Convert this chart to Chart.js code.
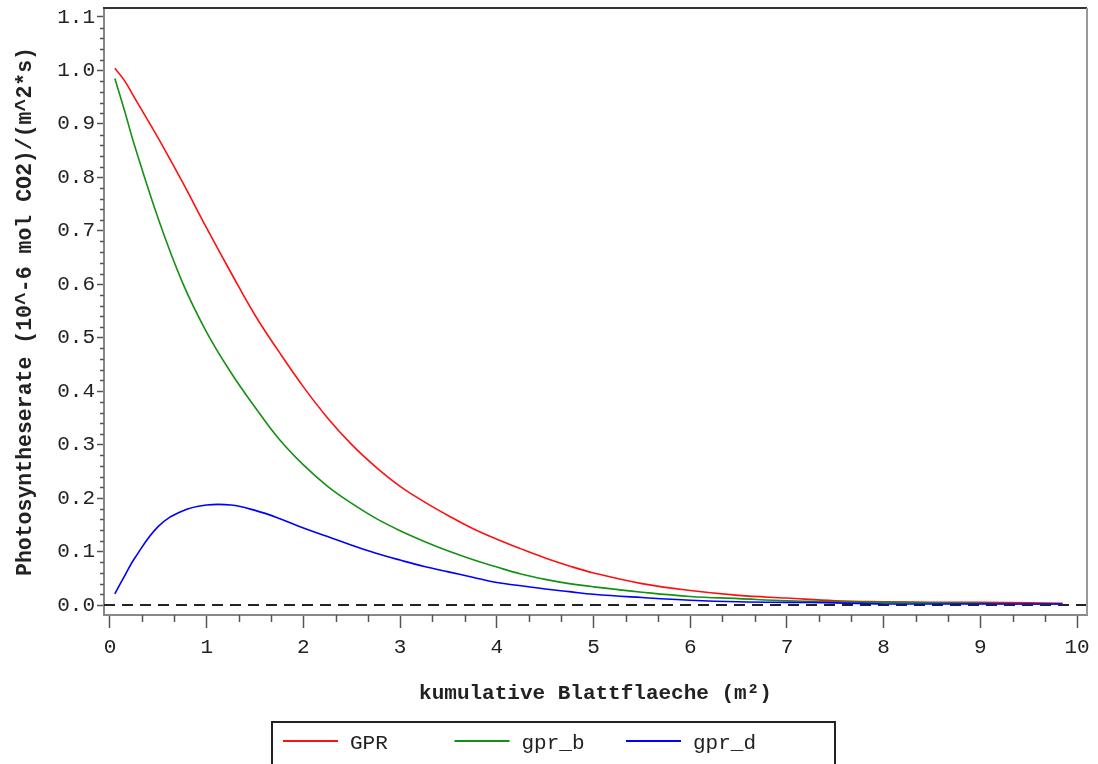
<!DOCTYPE html>
<html>
<head>
<meta charset="utf-8">
<script src="https://cdn.jsdelivr.net/npm/chart.js@4"></script>
<style>
  html, body { margin: 0; padding: 0; background: #fff; }
  #wrap { width: 1098px; height: 764px; }
</style>
</head>
<body>
<div id="wrap"><canvas id="chart" width="1098" height="764"></canvas></div>
<script>
// kumulative Blattflaeche vs. Photosyntheserate — three curves

const xs   = [0.05, 0.15, 0.25, 0.5, 0.75, 1, 1.25, 1.5, 1.75, 2, 2.25, 2.5, 2.75, 3, 3.25, 3.5, 3.75, 4, 4.25, 4.5, 4.75, 5, 5.5, 6, 6.5, 7, 7.5, 8, 8.5, 9, 9.5, 9.85];
const gpr  = [1.004, 0.981, 0.950, 0.873, 0.791, 0.705, 0.622, 0.542, 0.473, 0.408, 0.350, 0.300, 0.258, 0.222, 0.193, 0.167, 0.143, 0.123, 0.105, 0.088, 0.073, 0.060, 0.040, 0.027, 0.018, 0.013, 0.008, 0.006, 0.005, 0.005, 0.004, 0.003];
const gprB = [0.985, 0.925, 0.862, 0.722, 0.603, 0.510, 0.435, 0.370, 0.310, 0.262, 0.222, 0.190, 0.162, 0.139, 0.119, 0.101, 0.085, 0.071, 0.058, 0.048, 0.040, 0.034, 0.024, 0.016, 0.012, 0.008, 0.006, 0.005, 0.004, 0.003, 0.002, 0.002];
const gprD = [0.021, 0.054, 0.086, 0.147, 0.176, 0.187, 0.187, 0.177, 0.162, 0.144, 0.128, 0.112, 0.097, 0.084, 0.072, 0.062, 0.052, 0.042, 0.036, 0.030, 0.025, 0.020, 0.014, 0.009, 0.006, 0.005, 0.004, 0.002, 0.002, 0.002, 0.002, 0.002];

const seriesNames = ["GPR", "gpr_b", "gpr_d"];
const xTicks = [0, 1, 2, 3, 4, 5, 6, 7, 8, 9, 10];
const yTicks = [0, 0.1, 0.2, 0.3, 0.4, 0.5, 0.6, 0.7, 0.8, 0.9, 1.0, 1.1];
const xRange = [-0.062, 10.103];
const yRange = [-0.0187, 1.1168];

const FONT = "'Liberation Mono', 'DejaVu Sans Mono', monospace";
const INK = "#222";

const pts = arr => arr.map((v, i) => ({ x: xs[i], y: v }));

// minor tick marks (thirds on x, 0.02 on y) + the frame top/right
const framePlugin = {
  id: "frame",
  afterDraw(chart) {
    const { ctx, chartArea: { left, top, right, bottom } } = chart;
    const sx = chart.scales.x, sy = chart.scales.y;
    ctx.save();
    ctx.strokeStyle = "#555";
    ctx.lineWidth = 1.5;
    ctx.beginPath();
    for (let k = 0; k <= 30; k++) {
      if (k % 3 === 0) continue;
      const px = Math.round(sx.getPixelForValue(k / 3)) + 0.5;
      ctx.moveTo(px, bottom);
      ctx.lineTo(px, bottom + 7);
    }
    for (let k = 0; k <= 55; k++) {
      if (k % 5 === 0) continue;
      const py = Math.round(sy.getPixelForValue(k * 0.02)) + 0.5;
      ctx.moveTo(left, py);
      ctx.lineTo(left - 4, py);
    }
    ctx.stroke();

    ctx.lineWidth = 2;
    ctx.strokeStyle = "#333";
    ctx.beginPath();
    ctx.moveTo(left - 1, top);
    ctx.lineTo(right, top);
    ctx.stroke();
    ctx.strokeStyle = "#999";
    ctx.beginPath();
    ctx.moveTo(right, top);
    ctx.lineTo(right, bottom);
    ctx.stroke();
    ctx.restore();
  }
};

// boxed legend under the axis title, fixed columns like the original
const boxLegendPlugin = {
  id: "boxLegend",
  afterDraw(chart) {
    const ctx = chart.ctx;
    const items = chart.data.datasets.filter(d => d.inLegend)
      .sort((a, b) => seriesNames.indexOf(a.label) - seriesNames.indexOf(b.label));
    ctx.save();
    ctx.strokeStyle = "#222";
    ctx.lineWidth = 2;
    ctx.strokeRect(272, 722, 563, 60);
    ctx.font = "21px " + FONT;
    ctx.textBaseline = "middle";
    ctx.textAlign = "left";
    items.forEach((d, i) => {
      const x0 = 283 + i * 171.5;
      ctx.strokeStyle = d.borderColor;
      ctx.lineWidth = 2;
      ctx.beginPath();
      ctx.moveTo(x0, 741);
      ctx.lineTo(x0 + 55, 741);
      ctx.stroke();
      ctx.fillStyle = INK;
      ctx.fillText(d.label, x0 + 67, 743);
    });
    ctx.restore();
  }
};

const lineSet = (label, data, color, order) => ({
  label,
  data: pts(data),
  borderColor: color,
  backgroundColor: color,
  borderWidth: 1.6,
  pointRadius: 0,
  tension: 0.4,
  inLegend: true,
  order
});

new Chart(document.getElementById("chart"), {
  type: "line",
  plugins: [framePlugin, boxLegendPlugin],
  data: {
    datasets: [
      lineSet("gpr_d", gprD, "#0000ff", 0),
      lineSet("gpr_b", gprB, "#139113", 1),
      lineSet("GPR", gpr, "#ff1010", 2),
      {
        label: "zero",
        data: xRange.map(x => ({ x, y: 0 })),
        borderColor: "#222",
        borderWidth: 2,
        borderDash: [11, 7],
        pointRadius: 0,
        order: 3
      }
    ]
  },
  options: {
    responsive: false,
    animation: false,
    events: [],
    layout: { padding: { left: 0, top: 8, right: 11, bottom: 0 } },
    plugins: { legend: { display: false }, tooltip: { enabled: false } },
    scales: {
      x: {
        type: "linear",
        min: xRange[0],
        max: xRange[1],
        afterBuildTicks: s => { s.ticks = xTicks.map(v => ({ value: v })); },
        afterFit: s => { s.height = 149; s.paddingLeft = 0; s.paddingRight = 0; },
        ticks: { color: INK, font: { family: FONT, size: 21 }, padding: 7, maxRotation: 0 },
        grid: { drawOnChartArea: false, tickLength: 13, tickColor: "#555", tickWidth: 1.5 },
        border: { color: "#888", width: 2 },
        title: {
          display: true,
          text: "kumulative Blattflaeche (m²)",
          color: INK,
          font: { family: FONT, size: 21, weight: "bold", lineHeight: 1.2 },
          padding: { top: 0, bottom: 58 }
        }
      },
      y: {
        type: "linear",
        min: yRange[0],
        max: yRange[1],
        afterBuildTicks: s => { s.ticks = yTicks.map(v => ({ value: v })); },
        afterFit: s => { s.width = 104; s.paddingTop = 0; s.paddingBottom = 0; },
        ticks: { color: INK, font: { family: FONT, size: 21 }, padding: 2, callback: v => v.toFixed(1) },
        grid: { drawOnChartArea: false, tickLength: 7, tickColor: "#555", tickWidth: 1.5 },
        border: { color: "#888", width: 2 },
        title: {
          display: true,
          text: "Photosyntheserate (10^-6 mol CO2)/(m^2*s)",
          color: INK,
          font: { family: FONT, size: 21.5, weight: "bold", lineHeight: 1.2 },
          padding: { top: 12.6, bottom: 0 }
        }
      }
    }
  }
});
</script>
</body>
</html>
